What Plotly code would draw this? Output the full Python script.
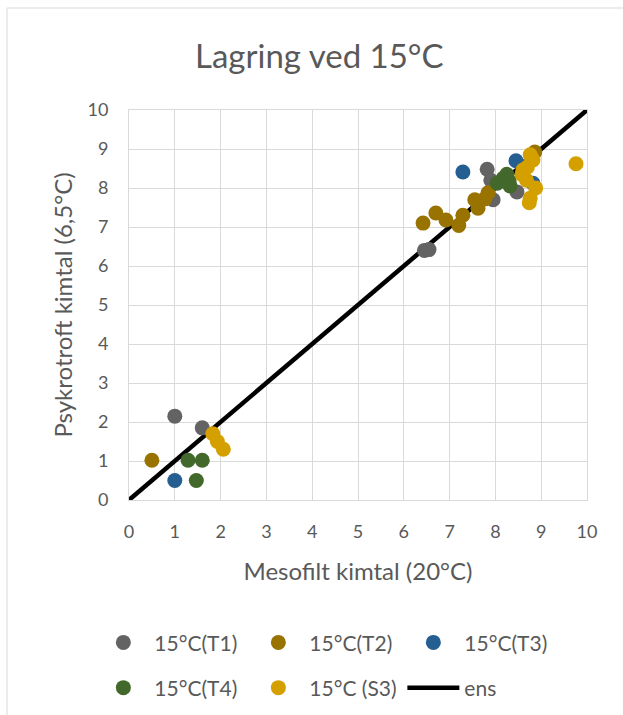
import plotly.graph_objects as go

# Mesofilt (x) vs psykrotroft (y) kimtal, per serie
t1_x = [1.0, 1.6, 6.45, 6.55, 7.82, 7.9, 7.95, 8.47]
t1_y = [2.15, 1.85, 6.4, 6.42, 8.48, 8.2, 7.7, 7.9]

t2_x = [0.5, 6.42, 6.7, 6.92, 7.2, 7.29, 7.55, 7.62, 7.77, 7.84, 8.86]
t2_y = [1.02, 7.1, 7.36, 7.18, 7.04, 7.3, 7.7, 7.48, 7.72, 7.88, 8.92]

t3_x = [1.0, 7.29, 8.45, 8.6, 8.82]
t3_y = [0.5, 8.41, 8.7, 8.55, 8.12]

t4_x = [1.29, 1.6, 1.47, 8.04, 8.17, 8.25, 8.32, 8.3]
t4_y = [1.02, 1.02, 0.5, 8.12, 8.25, 8.35, 8.05, 8.18]

s3_x = [1.83, 1.93, 2.06, 9.76, 8.76, 8.82, 8.7, 8.6, 8.58, 8.68, 8.88, 8.76, 8.74]
s3_y = [1.7, 1.5, 1.3, 8.62, 8.85, 8.72, 8.54, 8.46, 8.35, 8.2, 8.0, 7.74, 7.62]

ens_x = [0, 10]
ens_y = [0, 10]

series = [
    ("15°C(T1)", t1_x, t1_y, "#636363", "legend"),
    ("15°C(T2)", t2_x, t2_y, "#997300", "legend"),
    ("15°C(T3)", t3_x, t3_y, "#255E91", "legend"),
    ("15°C(T4)", t4_x, t4_y, "#43682B", "legend2"),
    ("15°C (S3)", s3_x, s3_y, "#D4A000", "legend2"),
]

FONT = "Lato, 'Open Sans', sans-serif"
TXT = "#595959"
GRID = "#D9D9D9"

fig = go.Figure()

# Reference line y = x, drawn underneath the markers
fig.add_trace(go.Scatter(
    x=ens_x, y=ens_y, mode="lines", name="ens",
    line=dict(color="black", width=4.5),
    legend="legend2", legendrank=3000,
))

for i, (name, xs, ys, col, lg) in enumerate(series):
    fig.add_trace(go.Scatter(
        x=xs, y=ys, mode="markers", name=name,
        marker=dict(color=col, size=15, line=dict(width=0)),
        legend=lg, legendrank=1000 + i,
    ))

axis_common = dict(
    range=[0, 10], dtick=1, tick0=0,
    showgrid=True, gridcolor=GRID, gridwidth=1,
    showline=True, linecolor=GRID, linewidth=1, mirror=True,
    zeroline=False, automargin=False,
    ticks="outside", tickcolor="rgba(0,0,0,0)",
    tickfont=dict(family=FONT, size=18, color=TXT),
)

fig.update_xaxes(
    **axis_common, ticklen=15,
    title=dict(text="Mesofilt kimtal (20°C)", font=dict(family=FONT, size=24, color=TXT), standoff=22),
)
fig.update_yaxes(
    **axis_common, ticklen=16,
    title=dict(text="Psykrotroft kimtal (6,5°C)", font=dict(family=FONT, size=24, color=TXT), standoff=8),
)

legend_common = dict(
    orientation="h", xanchor="left", yanchor="middle",
    entrywidth=88, entrywidthmode="pixels",
    itemwidth=52,
    font=dict(family=FONT, size=21, color=TXT),
    bgcolor="rgba(0,0,0,0)", itemsizing="trace",
    traceorder="normal",
)

fig.update_layout(
    width=623, height=715,
    margin=dict(l=129, r=36, t=110, b=215, autoexpand=False),
    paper_bgcolor="white", plot_bgcolor="white",
    showlegend=True,
    legend=dict(**legend_common, x=-0.08, y=-0.366),
    legend2=dict(**legend_common, x=-0.08, y=-0.482),
    annotations=[dict(
        text="Lagring ved 15°C", xref="paper", yref="paper",
        x=0.417, y=1.141, xanchor="center", yanchor="middle",
        showarrow=False, font=dict(family=FONT, size=33, color=TXT),
    )],
    shapes=[dict(
        type="rect", xref="paper", yref="paper",
        x0=(7 - 129) / 458, x1=(640 - 129) / 458,
        y0=(500 - 740) / 390, y1=(500 - 8) / 390,
        line=dict(color=GRID, width=1), fillcolor="rgba(0,0,0,0)", layer="below",
    )],
)

fig.write_html("out.html")
